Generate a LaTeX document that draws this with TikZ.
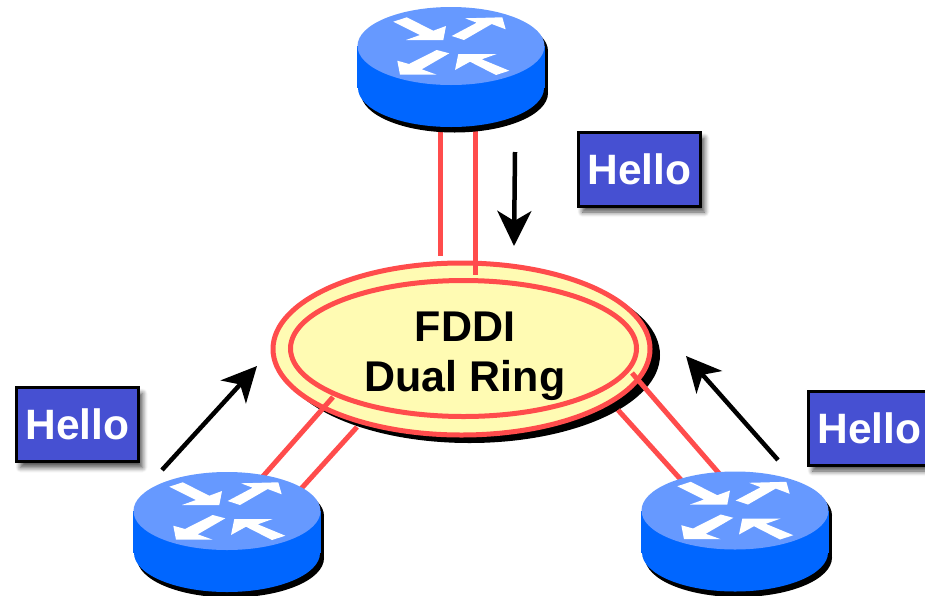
\documentclass[tikz,border=0pt]{standalone}
\usepackage{fontspec}
\setmainfont{Liberation Sans}
\usepackage{xcolor}
\usetikzlibrary{arrows.meta, shapes.geometric, shadows.blur}
\definecolor{routertop}{HTML}{6699FF}
\definecolor{routerside}{HTML}{0066FF}
\definecolor{linkred}{HTML}{FF4C4C}
\definecolor{ringfill}{HTML}{FFFBB3}
\definecolor{hellofill}{HTML}{4650D2}
\tikzset{
  % Ring
  ring-shadow/.style={ellipse, fill=black, minimum width=381pt, minimum height=176pt, inner sep=0pt},
  ring-outer/.style={ellipse, draw=linkred, fill=ringfill, line width=5pt, minimum width=377pt, minimum height=172pt, inner sep=0pt},
  ring-inner/.style={ellipse, draw=linkred, line width=5pt, minimum width=346pt, minimum height=136pt, inner sep=0pt},
  ring-label/.style={align=center, font=\bfseries\fontsize{43}{50}\selectfont},
  % Links and arrows
  link/.style={linkred, line width=5pt},
  flow/.style={-{Stealth[length=35pt, width=34pt, inset=10pt]}, line width=4.5pt, black},
  % Hello packet
  hello/.style={rectangle, draw=black, line width=3pt, fill=hellofill, text=white,
    minimum width=122pt, minimum height=74pt, inner sep=0pt,
    font=\bfseries\fontsize{42.5}{50}\selectfont,
    blur shadow={shadow xshift=4pt, shadow yshift=-6pt, shadow blur steps=6, shadow blur radius=5pt, shadow opacity=70}},
  router-arrow/.style={fill=white, draw=none},
  % Router
  router/.pic={
    \fill[black] (3.5,5) ellipse [x radius=93.5, y radius=39];
    \fill[black] (3.5,47) ellipse [x radius=93.5, y radius=39.5];
    \fill[black] (3.5,5) rectangle (97,47);
    \fill[routerside] (0,42) ellipse [x radius=93, y radius=39];
    \fill[routerside] (-94,0) rectangle (94,42);
    \fill[routertop] (0,0) ellipse [x radius=93.5, y radius=39];
    \fill[router-arrow] (-57.7,-24.3) -- (-44.3,-28.7) -- (-17.7,-15.3) -- (-5,-20) -- (-7.7,-6) -- (-45,-6) -- (-31,-11) -- cycle;
    \fill[router-arrow] (0.7,-10) -- (25.7,-23.3) -- (14,-27.7) -- (51.3,-28.7) -- (54.7,-16.7) -- (40.7,-22) -- (13,-6) -- cycle;
    \fill[router-arrow] (-14.3,4) -- (-1.7,7.3) -- (-29.3,23.3) -- (-14.3,28.7) -- (-51,28.7) -- (-53.7,14.7) -- (-42,18) -- cycle;
    \fill[router-arrow] (58.3,24.7) -- (45,29) -- (19,15.7) -- (4,24) -- (7.3,8) -- (45.7,8) -- (30.7,13.3) -- cycle;
  }
}
\begin{document}
\begin{tikzpicture}[x=1pt, y=-1pt]
    \useasboundingbox (0,0) rectangle (925,595);
    \clip (0,0) rectangle (925,595);
    % --- Dual ring ---
    \node[ring-shadow] (ringshadow) at (469.5,355) {};
    \node[ring-outer] (ring) at (461.5,349) {};
    \node[ring-inner] (ringinner) at (463.5,348.5) {};
    \node[ring-label] (ringlabel) at (465,356) {FDDI\\Dual Ring};
    % --- Link ends ---
    \coordinate (topa) at (440,120);
    \coordinate (topb) at (475,120);
    \coordinate (ringa) at (440,256);
    \coordinate (ringb) at (475,275);
    \coordinate (lefta) at (250,491);
    \coordinate (leftb) at (290,501);
    \coordinate (ringc) at (333,397);
    \coordinate (ringd) at (357,427);
    \coordinate (righta) at (692,492);
    \coordinate (rightb) at (730,486);
    \coordinate (ringe) at (618,410);
    \coordinate (ringf) at (632,373);
    % Links
    \draw[link] (topa) -- (ringa);
    \draw[link] (topb) -- (ringb);
    \draw[link] (lefta) -- (ringc);
    \draw[link] (leftb) -- (ringd);
    \draw[link] (righta) -- (ringe);
    \draw[link] (rightb) -- (ringf);
    % Routers
    \pic (routertop) at (451,46) {router};
    \pic (routerleft) at (227,511) {router};
    \pic (routerright) at (735,510.5) {router};
    % Hello packets
    \node[hello] (hellotop) at (639.5,169) {Hello};
    \node[hello] (helloleft) at (77.5,424.5) {Hello};
    \node[hello] (helloright) at (869.5,428) {Hello};
    % Arrows
    \coordinate (flowtopa) at (515,152);
    \coordinate (flowtopb) at (514,246);
    \coordinate (flowlefta) at (162,470);
    \coordinate (flowleftb) at (257,366);
    \coordinate (flowrighta) at (778,460);
    \coordinate (flowrightb) at (686,356);
    \draw[flow] (flowtopa) -- (flowtopb);
    \draw[flow] (flowlefta) -- (flowleftb);
    \draw[flow] (flowrighta) -- (flowrightb);
\end{tikzpicture}
\end{document}
